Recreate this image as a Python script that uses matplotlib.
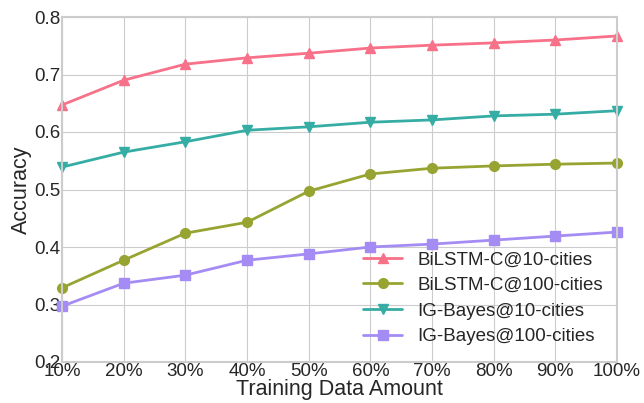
import matplotlib
matplotlib.use("Agg")
import matplotlib.pyplot as plt
import seaborn as sns

x_labels = ["10%", "20%", "30%", "40%", "50%", "60%", "70%", "80%", "90%", "100%"]
bilstm_10 = [0.647, 0.690, 0.718, 0.729, 0.737, 0.746, 0.751, 0.755, 0.760, 0.767]
bilstm_100 = [0.329, 0.377, 0.424, 0.443, 0.497, 0.527, 0.537, 0.541, 0.544, 0.546]
igb_10 = [0.539, 0.565, 0.583, 0.603, 0.609, 0.617, 0.621, 0.628, 0.631, 0.637]
igb_100 = [0.297, 0.337, 0.351, 0.377, 0.388, 0.400, 0.405, 0.412, 0.419, 0.426]

sns.set_style("whitegrid")
plt.rcParams['font.family'] = ['Liberation Sans', 'DejaVu Sans']

pal = sns.color_palette("husl", 4)

fig = plt.figure(figsize=(6.44, 4.03), dpi=100)
ax = fig.add_axes([62/644, 1 - 362/403, (617-62)/644, (362-17)/403])
xs = list(range(len(x_labels)))
ax.plot(xs, bilstm_10, marker='^', color=pal[0], lw=2, ms=7, label="BiLSTM-C@10-cities", clip_on=False)
ax.plot(xs, bilstm_100, marker='o', color=pal[1], lw=2, ms=7, label="BiLSTM-C@100-cities", clip_on=False)
ax.plot(xs, igb_10, marker='v', color=pal[2], lw=2, ms=7, label="IG-Bayes@10-cities", clip_on=False)
ax.plot(xs, igb_100, marker='s', color=pal[3], lw=2, ms=7, label="IG-Bayes@100-cities", clip_on=False)

ax.set_xlim(0, len(x_labels) - 1)
ax.set_ylim(0.2, 0.8)
ax.set_xticks(xs)
ax.set_xticklabels(x_labels)
ax.set_yticks([0.2, 0.3, 0.4, 0.5, 0.6, 0.7, 0.8])
ax.set_yticklabels(["0.2", "0.3", "0.4", "0.5", "0.6", "0.7", "0.8"])
ax.tick_params(axis='both', labelsize=13.5, colors='#262626', pad=1, length=0)
ax.set_xlabel("Training Data Amount", fontsize=15.5, color='#262626', labelpad=-1)
ax.set_ylabel("Accuracy", fontsize=15.5, color='#262626', labelpad=2)
for s in ax.spines.values():
    s.set_color('#cccccc')
    s.set_linewidth(1.5)
ax.legend(loc='lower right', frameon=False, fontsize=13.5, handlelength=2.1,
          handletextpad=0.8, bbox_to_anchor=(1.005, 0.0), labelspacing=0.45)
fig.savefig("out.png", dpi=100)
